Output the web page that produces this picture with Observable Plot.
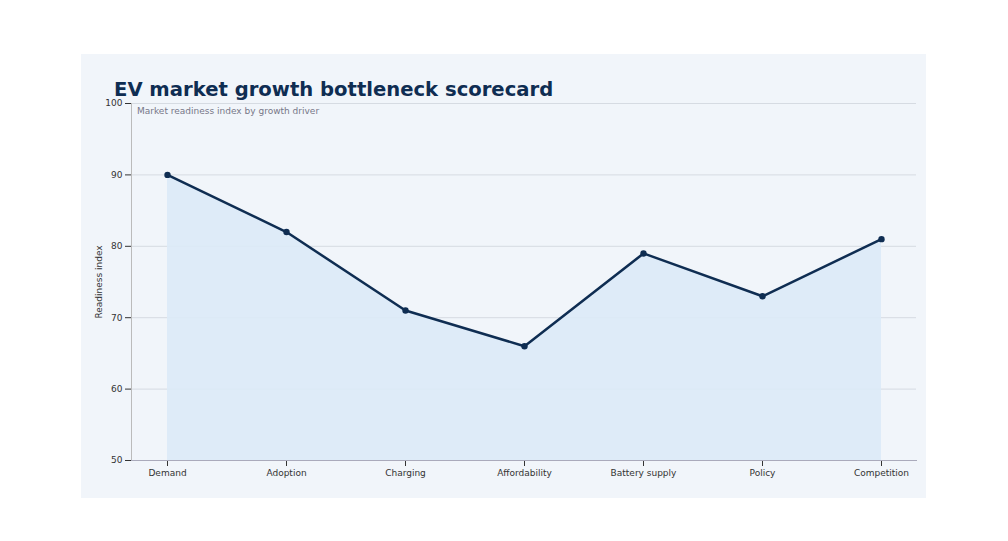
<!DOCTYPE html><html><head><meta charset="utf-8">
<script src="https://cdn.jsdelivr.net/npm/d3@7"></script>
<script src="https://cdn.jsdelivr.net/npm/@observablehq/plot@0.6"></script>
<style>
body{margin:0;background:#fff;font-family:"DejaVu Sans",sans-serif}
#card{position:absolute;left:81px;top:54px;width:845px;height:444px;background:#f1f5fa}
#t{position:absolute;left:33px;top:24px;font-size:19.6px;font-weight:bold;color:#0f2d52}
#s{position:absolute;left:56px;top:52px;font-size:9px;color:#778}
#p{position:absolute;left:0;top:40px}
</style></head><body>
<div id="card"><div id="t">EV market growth bottleneck scorecard</div>
<div id="s">Market readiness index by growth driver</div><div id="p"></div></div>
<script>
const categories=["Demand","Adoption","Charging","Affordability","Battery supply","Policy","Competition"];
const values=[90,82,71,66,79,73,81];
const data=categories.map((c,i)=>({c,v:values[i]}));
const chart=Plot.plot({
 width:845,height:396,marginLeft:50,marginRight:10,marginTop:9,marginBottom:30,
 style:{background:"transparent",fontSize:"9px",fontFamily:"DejaVu Sans",color:"#333"},
 x:{type:"point",domain:categories,padding:0.28,label:null},
 y:{domain:[50,100],ticks:[50,60,70,80,90,100],grid:true,label:"Readiness index",labelAnchor:"center",labelArrow:"none",labelOffset:36},
 marks:[
  Plot.areaY(data,{x:"c",y1:50,y2:"v",fill:"#dceaf7",fillOpacity:0.9}),
  Plot.frame({anchor:"left",stroke:"#bbb"}),
  Plot.frame({anchor:"bottom",stroke:"#aab"}),
  Plot.lineY(data,{x:"c",y:"v",stroke:"#0f2d52",strokeWidth:2.5}),
  Plot.dot(data,{x:"c",y:"v",fill:"#0f2d52",r:3.2})
 ]});
chart.querySelectorAll("[aria-label='y-grid'] line").forEach(l=>{l.setAttribute("stroke","#d6dbe2");l.setAttribute("stroke-opacity",1)});
document.getElementById("p").appendChild(chart);
</script></body></html>
